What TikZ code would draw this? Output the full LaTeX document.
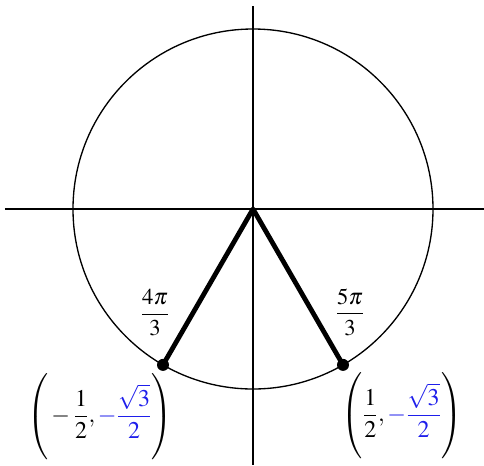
\documentclass[tikz,border=0pt]{standalone}
\usepackage{mathptmx}
\usepackage{tikz}
\definecolor{rootblue}{RGB}{30,30,235}
\newcommand{\tallstrut}{\rule[-29pt]{0pt}{58pt}}

\begin{document}
\begin{tikzpicture}[
  x=0.75pt, y=0.75pt,
  axis/.style ={line width=1.1pt},
  circ/.style ={line width=1pt},
  ray/.style  ={line width=3.6pt},
  pt/.style   ={circle, fill=black, inner sep=0pt, minimum size=9pt},
  lbl/.style  ={font=\fontsize{17}{20}\selectfont, inner sep=0pt},
  coord/.style={font=\fontsize{18}{21}\selectfont, inner sep=0pt},
]
\useasboundingbox (-253,209) rectangle (231,-256);
% --- axes and unit circle ---
\coordinate (O) at (0,0);
\coordinate (xl) at (-248,0);
\coordinate (xr) at (231,0);
\coordinate (yt) at (0,203);
\coordinate (yb) at (0,-256);
\draw[axis] (xl) -- (xr);
\draw[axis] (yt) -- (yb);
\draw[circ] (O) circle (180);

% --- the two angles ---
\node[pt] (p4) at (240:180) {};
\node[pt] (p5) at (300:180) {};
\draw[ray, line cap=round, line join=round] (p4.center) -- (O) -- (p5.center);

% --- labels ---
\node[lbl] (a4) at (-98,-104) {$\displaystyle\frac{4\pi}{3}$};
\node[lbl] (a5) at (97,-103)  {$\displaystyle\frac{5\pi}{3}$};
\node[coord] (c4) at (-153,-208) {$\displaystyle\left(\tallstrut-\frac{1}{2},{\color{rootblue}-\frac{\sqrt{3}}{2}}\right)$};
\node[coord] (c5) at (149,-207)  {$\displaystyle\left(\tallstrut\frac{1}{2},{\color{rootblue}-\frac{\sqrt{3}}{2}}\right)$};
\end{tikzpicture}
\end{document}
